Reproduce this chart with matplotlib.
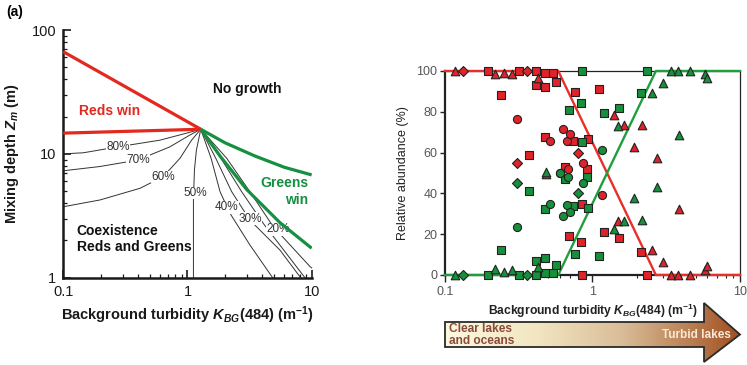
import numpy as np
import matplotlib
matplotlib.use('Agg')
import matplotlib.pyplot as plt
from matplotlib.patches import Polygon
from matplotlib.colors import LinearSegmentedColormap
from matplotlib.ticker import FixedLocator, LogLocator, NullFormatter

plt.rcParams['font.family'] = ['Liberation Sans', 'DejaVu Sans']
plt.rcParams['mathtext.fontset'] = 'custom'
plt.rcParams['mathtext.rm'] = 'Liberation Sans:bold'
plt.rcParams['mathtext.it'] = 'Liberation Sans:italic:bold'
plt.rcParams['mathtext.bf'] = 'Liberation Sans:bold'

RED = '#e2281f'
GREEN = '#159040'
RED_PT = '#e0222a'
GREEN_PT = '#17903c'

# ---- panel (a) left: model, background turbidity vs mixing depth ----
red_upper_k = [0.1, 1.28]
red_upper_z = [66.8, 15.8]
red_lower_k = [0.1, 1.28]
red_lower_z = [14.7, 15.8]
green_upper_k = [1.28, 2.0, 3.5, 6.0, 10.0]
green_upper_z = [15.8, 12.3, 9.6, 7.8, 6.76]
green_lower_k = [1.28, 1.83, 3.0, 5.56, 10.0]
green_lower_z = [15.8, 9.6, 5.15, 2.78, 1.73]

# coexistence isolines (% reds)
c80_k = [0.1, 0.145, 0.277, 0.601, 0.985, 1.28]
c80_z = [10.0, 10.2, 11.4, 12.9, 14.7, 15.8]
c70_k = [0.1, 0.197, 0.397, 0.723, 1.047, 1.28]
c70_z = [7.3, 7.9, 8.9, 11.4, 14.2, 15.8]
c60_k = [0.1, 0.197, 0.415, 0.638, 0.871, 1.08, 1.28]
c60_z = [3.74, 4.24, 5.27, 6.55, 9.21, 12.9, 15.8]
c50_k = [1.117, 1.117, 1.138, 1.18, 1.28]
c50_z = [1.0, 4.24, 7.4, 10.7, 15.8]
c40_k = [1.28, 1.55, 1.83, 2.20, 3.18, 4.85]
c40_z = [15.8, 9.21, 4.95, 3.31, 1.84, 1.0]
c30_k = [1.28, 1.69, 2.27, 3.18, 5.56, 8.15]
c30_z = [15.8, 9.21, 4.95, 2.92, 1.67, 1.0]
c25_k = [1.28, 1.86, 2.73, 4.07, 8.83]
c25_z = [15.8, 9.21, 4.95, 2.75, 1.0]
c20_k = [1.28, 2.07, 3.18, 4.91, 9.7, 10.0]
c20_z = [15.8, 9.21, 4.95, 2.58, 1.23, 1.2]

# ---- panel (a) right: lake observations ----
site_kbg = np.array([0.117, 0.132, 0.195, 0.218, 0.239, 0.252, 0.283, 0.306, 0.309, 0.318,
                     0.358, 0.373, 0.411, 0.411, 0.429, 0.476, 0.476, 0.476, 0.484, 0.519,
                     0.544, 0.570, 0.603, 0.634, 0.650, 0.668, 0.680, 0.693, 0.703, 0.734,
                     0.761, 0.802, 0.832, 0.845, 0.855, 0.860, 0.914, 0.937, 1.11, 1.167,
                     1.197, 1.40, 1.50, 1.52, 1.64, 1.92, 2.13, 2.16, 2.33, 2.52,
                     2.72, 3.02, 3.40, 3.78, 3.87, 4.58, 5.79, 5.94])
red_pct = np.array([100, 100, 100, 98.5, 88, 99, 98.4, 54.7, 76.5, 100,
                    100, 58.8, 100, 93, 96.4, 99, 92, 67.8, 49.5, 65.7,
                    99, 94.8, 50, 71.4, 53, 65.8, 52, 19.2, 69, 65.8,
                    89.8, 60, 16.2, 0, 35, 55, 52, 66.7, 91, 39,
                    20.9, 78.4, 26.5, 18, 73.5, 62.9, 11.3, 73.5, 0, 12.3,
                    57.5, 6.5, 0, 0, 32.2, 0, 2.5, 4.4])
green_pct = np.array([0, 0, 0, 2.8, 12.3, 1.6, 2.5, 45, 23.4, 0,
                      0, 41, 0, 7, 4.1, 1, 8.2, 32.3, 50.6, 35,
                      0.8, 5, 50, 29, 47, 34.3, 48, 80.9, 31, 34,
                      10.2, 40, 84.2, 100, 65.3, 45.3, 48.2, 33, 9.2, 61.2,
                      79.3, 22.4, 73.2, 82, 26.5, 37.6, 89, 27, 100, 89,
                      43.3, 94.3, 100, 100, 68.6, 100, 98.5, 96.4])
site_marker = np.array(['^', 'D', 's', '^', 's', '^', '^', 'D', 'o', 's',
                        'D', 's', 's', 's', '^', 's', 's', 's', '^', 'o',
                        's', 's', 'o', 'o', 's', 'o', 'o', 's', 'o', 's',
                        's', 'D', 's', 's', 's', 'o', 's', 's', 's', 'o',
                        's', '^', '^', 's', '^', '^', 's', '^', 's', '^',
                        '^', '^', '^', '^', '^', '^', '^', '^'])

# fitted model lines
fit_k = [0.1, 0.586, 2.69, 10.0]
fit_red = [100, 100, 0, 0]
fit_green = [0, 0, 100, 100]

fig = plt.figure(figsize=(7.47, 3.65), dpi=100)

# ---------------- left panel ----------------
ax1 = fig.add_axes([0.0847, 0.2392, 0.3325, 0.6786])
ax1.set_xscale('log')
ax1.set_yscale('log')
ax1.set_xlim(0.1, 10)
ax1.set_ylim(1, 100)

iso = [(c80_k, c80_z, '80%', 0.276, 11.4), (c70_k, c70_z, '70%', 0.399, 8.93),
       (c60_k, c60_z, '60%', 0.635, 6.5), (c50_k, c50_z, '50%', 1.15, 4.83),
       (c40_k, c40_z, '40%', 2.07, 3.7), (c30_k, c30_z, '30%', 3.18, 2.98),
       (c25_k, c25_z, None, 0, 0), (c20_k, c20_z, '20%', 5.38, 2.47)]
for k, z, lab, lx, ly in iso:
    ax1.plot(k, z, color='#333333', lw=0.7, zorder=2, clip_on=False)
    if lab:
        ax1.text(lx, ly, lab, fontsize=8.5, color='#333333', ha='center', va='center', zorder=3,
                 bbox=dict(facecolor='white', edgecolor='none', pad=0.3))

ax1.plot(red_upper_k, red_upper_z, color=RED, lw=2.3, zorder=4, solid_capstyle='butt')
ax1.plot(red_lower_k, red_lower_z, color=RED, lw=2.3, zorder=4, solid_capstyle='butt')
ax1.plot(green_upper_k, green_upper_z, color=GREEN, lw=2.3, zorder=4, solid_capstyle='butt')
ax1.plot(green_lower_k, green_lower_z, color=GREEN, lw=2.3, zorder=4, solid_capstyle='butt')

ax1.text(0.238, 22.2, 'Reds win', color=RED, fontsize=10, fontweight='bold', ha='center', va='center')
ax1.text(3.01, 33.4, 'No growth', color='#111111', fontsize=10, fontweight='bold', ha='center', va='center')
ax1.text(9.4, 4.97, 'Greens\nwin', color=GREEN, fontsize=10, fontweight='bold', ha='right', va='center',
         multialignment='right', linespacing=1.2)
ax1.text(0.128, 2.05, 'Coexistence\nReds and Greens', color='#111111', fontsize=10, fontweight='bold',
         ha='left', va='center', linespacing=1.25)

for s in ['top', 'right']:
    ax1.spines[s].set_visible(False)
for s in ['left', 'bottom']:
    ax1.spines[s].set_linewidth(1.8)
    ax1.spines[s].set_color('#1a1a1a')
ax1.xaxis.set_major_locator(FixedLocator([0.1, 1, 10]))
ax1.yaxis.set_major_locator(FixedLocator([1, 10, 100]))
ax1.xaxis.set_minor_locator(LogLocator(base=10, subs=range(2, 10)))
ax1.yaxis.set_minor_locator(LogLocator(base=10, subs=range(2, 10)))
ax1.xaxis.set_minor_formatter(NullFormatter())
ax1.yaxis.set_minor_formatter(NullFormatter())
ax1.set_xticklabels(['0.1', '1', '10'])
ax1.set_yticklabels(['1', '10', '100'])
ax1.tick_params(which='major', direction='in', length=6, width=1.2, labelsize=10.5, colors='#1a1a1a', pad=5)
ax1.tick_params(which='minor', direction='in', length=3, width=0.9, colors='#1a1a1a')
ax1.set_xlabel('Background turbidity $K_{BG}$(484) (m$^{-1}$)', fontsize=10.5, fontweight='bold',
               color='#1a1a1a', labelpad=4)
ax1.set_ylabel('Mixing depth $Z_m$ (m)', fontsize=10.5, fontweight='bold', color='#1a1a1a', labelpad=8)

fig.text(0.008, 0.967, '(a)', fontsize=10, fontweight='bold', ha='left', va='center')

# ---------------- right panel ----------------
ax2 = fig.add_axes([0.5957, 0.2466, 0.3949, 0.5589])
ax2.set_xscale('log')
ax2.set_xlim(0.1, 10)
ax2.set_ylim(0, 100)

ax2.plot(fit_k, fit_red, color='#e8302a', lw=1.7, zorder=3, clip_on=False)
ax2.plot(fit_k, fit_green, color='#1f9e3e', lw=1.7, zorder=3, clip_on=False)

sizes = {'s': 28, 'o': 34, '^': 38, 'D': 26}
for vals, col in [(red_pct, RED_PT), (green_pct, GREEN_PT)]:
    for mk, sz in sizes.items():
        sel = site_marker == mk
        ax2.scatter(site_kbg[sel], vals[sel], marker=mk, s=sz, facecolor=col, edgecolor='#222222',
                    linewidths=0.8, zorder=4, clip_on=False)

ax2.spines['left'].set_linewidth(1.6)
ax2.spines['bottom'].set_linewidth(1.6)
ax2.spines['top'].set_linewidth(0.9)
ax2.spines['right'].set_linewidth(0.9)
for s in ax2.spines.values():
    s.set_color('#222222')
ax2.xaxis.set_major_locator(FixedLocator([0.1, 1, 10]))
ax2.xaxis.set_minor_locator(LogLocator(base=10, subs=range(2, 10)))
ax2.xaxis.set_minor_formatter(NullFormatter())
ax2.set_xticklabels(['0.1', '1', '10'])
ax2.yaxis.set_major_locator(FixedLocator([0, 20, 40, 60, 80, 100]))
ax2.tick_params(which='major', direction='out', length=3.5, width=1.0, labelsize=9,
                labelcolor='#555555', colors='#222222', pad=2)
ax2.tick_params(which='minor', direction='out', length=2.5, width=0.8, colors='#222222')
ax2.tick_params(axis='x', which='major', length=5, pad=3)
ax2.set_ylabel('Relative abundance (%)', fontsize=9, color='#222222', labelpad=5)

# turbidity arrow under the right panel (pixel coordinates overlay)
ov = fig.add_axes([0, 0, 1, 1], zorder=-1)
ov.set_axis_off()
arrow_cmap = LinearSegmentedColormap.from_list(
    'turb', [(0.0, '#fcf8e0'), (0.3, '#f3e7c2'), (0.6, '#d9bd98'), (0.85, '#b77a4c'), (1.0, '#a04e22')])
im = ov.imshow(np.linspace(0, 1, 256).reshape(1, -1), extent=[445, 740, 363, 302],
               cmap=arrow_cmap, aspect='auto', zorder=1)
arrow = Polygon([(445, 322), (704, 322), (704, 303), (740, 334.5), (704, 362),
                 (704, 347), (445, 347)], closed=True, facecolor='none',
                edgecolor='#2a2a2a', lw=1.3, zorder=2)
ov.add_patch(arrow)
im.set_clip_path(arrow)
ov.set_xlim(0, 747)
ov.set_ylim(365, 0)
ov.text(593, 310.5, 'Background turbidity $K_{BG}$(484) (m$^{-1}$)', fontsize=8.7,
        fontweight='bold', color='#222222', ha='center', va='center', zorder=3)
ov.text(449, 335, 'Clear lakes\nand oceans', fontsize=8.6, fontweight='bold', color='#8a4a3c',
        ha='left', va='center', linespacing=0.98, zorder=3)
ov.text(731, 335, 'Turbid lakes', fontsize=8.5, fontweight='bold', color='#f7e9d8',
        ha='right', va='center', zorder=3)

fig.savefig('out.png', dpi=100)
